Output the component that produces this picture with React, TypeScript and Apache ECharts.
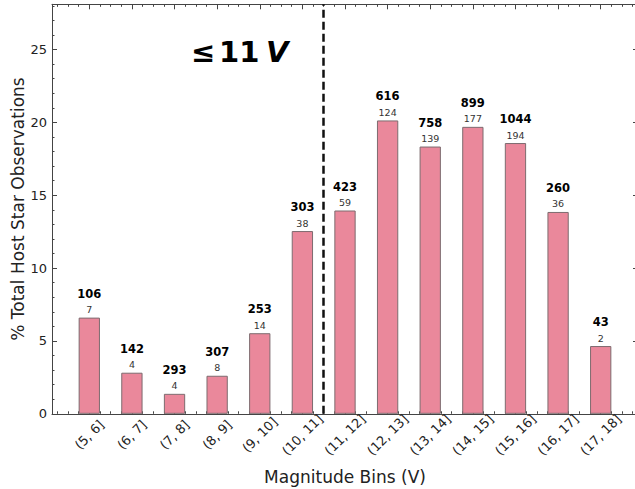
import React, { useEffect, useRef } from 'react';
import * as echarts from 'echarts';

const categories = ['(5, 6]', '(6, 7]', '(7, 8]', '(8, 9]', '(9, 10]', '(10, 11]', '(11, 12]', '(12, 13]', '(13, 14]', '(14, 15]', '(15, 16]', '(16, 17]', '(17, 18]'];
const percentValues = [6.6, 2.82, 1.37, 2.61, 5.53, 12.54, 13.95, 20.13, 18.34, 19.69, 18.58, 13.85, 4.65];
const totalCounts = [106, 142, 293, 307, 253, 303, 423, 616, 758, 899, 1044, 260, 43];
const hostCounts = [7, 4, 4, 8, 14, 38, 59, 124, 139, 177, 194, 36, 2];
const yMajorTicks = [0, 5, 10, 15, 20, 25];
const yMinorTicks = [1, 2, 3, 4, 6, 7, 8, 9, 11, 12, 13, 14, 16, 17, 18, 19, 21, 22, 23, 24, 26, 27, 28];
const cutoffBin = 5.5;
const yMax = 28.1;
const xMin = -0.875;
const xMax = 12.875;

const FONT = 'DejaVu Sans';
const AXIS_COLOR = '#444';

const xMajorTicks = categories.map((_, i) => i);
const xMinorTicks: number[] = [];
categories.forEach((_, i) => {
  xMinorTicks.push(i - 0.75, i - 0.5, i - 0.25);
});
xMinorTicks.push(12.25, 12.5, 12.75);

function xAxisDef(position: 'top' | 'bottom', minor: boolean, main: boolean): any {
  return {
    type: 'value',
    position,
    min: xMin,
    max: xMax,
    splitLine: { show: false },
    axisLine: { show: !minor, onZero: false, lineStyle: { color: AXIS_COLOR, width: 1 } },
    axisTick: {
      show: true,
      inside: true,
      length: minor ? 2.5 : 5,
      customValues: minor ? xMinorTicks : xMajorTicks,
      lineStyle: { color: AXIS_COLOR, width: 1 },
    },
    axisLabel: main
      ? {
          show: true,
          customValues: xMajorTicks,
          formatter: (v: number) => categories[Math.round(v)] ?? '',
          rotate: 45,
          align: 'center',
          verticalAlign: 'middle',
          margin: 21,
          fontSize: 13,
          fontFamily: FONT,
          color: '#222',
        }
      : { show: false },
    name: main ? 'Magnitude Bins (V)' : '',
    nameLocation: 'middle',
    nameGap: 55,
    nameTextStyle: { fontSize: 17, fontFamily: FONT, color: '#222' },
  };
}

function yAxisDef(position: 'left' | 'right', minor: boolean, main: boolean): any {
  return {
    type: 'value',
    position,
    min: 0,
    max: yMax,
    splitLine: { show: false },
    axisLine: { show: !minor, onZero: false, lineStyle: { color: AXIS_COLOR, width: 1 } },
    axisTick: {
      show: true,
      inside: true,
      length: minor ? 2.5 : 5,
      customValues: minor ? yMinorTicks : yMajorTicks,
      lineStyle: { color: AXIS_COLOR, width: 1 },
    },
    axisLabel: main
      ? {
          show: true,
          customValues: yMajorTicks,
          margin: 5,
          fontSize: 13,
          fontFamily: FONT,
          color: '#222',
        }
      : { show: false },
    name: main ? '% Total Host Star Observations' : '',
    nameLocation: 'middle',
    nameGap: 26,
    nameMoveOverlap: false,
    nameTextStyle: { fontSize: 17, fontFamily: FONT, color: '#222' },
  };
}

export default function App() {
  const ref = useRef<HTMLDivElement>(null);
  useEffect(() => {
    if (!ref.current) return;
    const chart = echarts.init(ref.current, undefined, { renderer: 'svg' });
    chart.setOption({
      animation: false,
      backgroundColor: '#fff',
      grid: { left: 52, right: -3, top: 4.3, bottom: 75.2, containLabel: false, outerBoundsMode: 'none' },
      xAxis: [
        xAxisDef('bottom', false, true),
        xAxisDef('bottom', true, false),
        xAxisDef('top', false, false),
        xAxisDef('top', true, false),
      ],
      yAxis: [
        yAxisDef('left', false, true),
        yAxisDef('left', true, false),
        yAxisDef('right', false, false),
        yAxisDef('right', true, false),
      ],
      graphic: [
        {
          type: 'text',
          x: 191,
          y: 52,
          style: { text: '≤', font: `bold 29px "${FONT}"`, fill: '#000', verticalAlign: 'middle' },
        },
        {
          type: 'text',
          x: 219,
          y: 52,
          style: { text: '11', font: `bold 29px "${FONT}"`, fill: '#000', verticalAlign: 'middle' },
        },
        {
          type: 'text',
          x: 266,
          y: 52,
          style: { text: 'V', font: `italic bold 29px "${FONT}"`, fill: '#000', verticalAlign: 'middle' },
        },
      ],
      series: [
        {
          type: 'bar',
          xAxisIndex: 0,
          yAxisIndex: 0,
          barWidth: 21.3,
          data: categories.map((_, i) => [i, percentValues[i]]),
          itemStyle: { color: '#EA889B', borderColor: '#7d6b6f', borderWidth: 1 },
          label: {
            show: true,
            position: 'top',
            distance: 2,
            formatter: (p: any) => `{t|${totalCounts[p.dataIndex]}}\n{h|${hostCounts[p.dataIndex]}}`,
            rich: {
              t: { fontSize: 11.5, fontWeight: 'bold', fontFamily: FONT, color: '#000', lineHeight: 20, align: 'center' },
              h: { fontSize: 9.5, fontFamily: FONT, color: '#333', lineHeight: 12, align: 'center' },
            },
          },
          markLine: {
            silent: true,
            symbol: ['none', 'none'],
            label: { show: false },
            lineStyle: { color: '#111', width: 2.5, type: [8, 4] },
            data: [{ xAxis: cutoffBin }],
          },
        },
      ],
    });
    return () => chart.dispose();
  }, []);
  return <div ref={ref} style={{ position: 'absolute', left: 0, top: 0, width: 635, height: 489 }} />;
}
